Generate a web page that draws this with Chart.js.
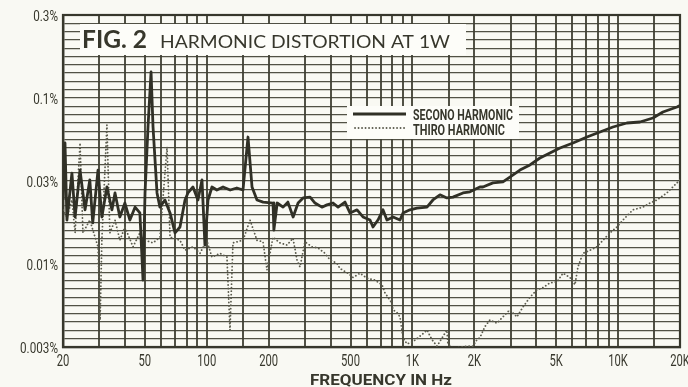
<!DOCTYPE html>
<html><head><meta charset="utf-8">
<script src="https://cdn.jsdelivr.net/npm/chart.js@4/dist/chart.umd.min.js"></script>
<style>html,body{margin:0;padding:0;background:#fbfbf6}#wrap{width:688px;height:387px}</style>
</head><body><div id="wrap"><canvas id="c" width="688" height="387"></canvas></div>
<script>
// ---- data ----
const secondFreq = [20,20.45,20.9,22.1,22.9,24.2,25.6,27.0,27.9,29.6,
  30.9,32.7,34.6,35.8,37.8,40.0,42.3,44.8,47.3,49.0,
  50.1,51.8,53.6,54.8,57.3,59.2,62.6,66.3,70.1,74.1,
  78.4,81.0,85.7,90.6,94.8,98.0,101.4,106,112,120,
  130,140,150,158.7,166,175.5,188,210,212,220,
  235,248,263,278,294,318,336,363,384,411,
  435,470,497,538,575,622,643,680,719,752,
  805,870,900,973,1052,1177,1258,1361,1472,1574,
  1761,1904,2129,2202,2463,2754,2978,3332,3727,4169,
  4663,5217,6035,7057,8163,9442,11038,12768,14770,16520,
  19320,20000];
const secondPct = [0.0243,0.0536,0.0184,0.0353,0.0192,0.0368,0.0212,0.0321,0.0177,0.0368,
  0.0192,0.0291,0.0212,0.0268,0.0192,0.0233,0.0184,0.0220,0.0203,0.0080,
  0.0268,0.0669,0.1434,0.0669,0.0268,0.0220,0.0243,0.0203,0.0154,0.0167,
  0.0243,0.0268,0.0291,0.0243,0.0321,0.0130,0.0243,0.0291,0.0279,0.0291,
  0.0279,0.0287,0.0279,0.0582,0.0291,0.0243,0.0236,0.0233,0.0160,0.0233,
  0.0220,0.0236,0.0192,0.0233,0.0250,0.0253,0.0233,0.0220,0.0227,0.0233,
  0.0220,0.0236,0.0203,0.0212,0.0192,0.0184,0.0167,0.0184,0.0212,0.0184,
  0.0192,0.0184,0.0203,0.0212,0.0217,0.0220,0.0243,0.0261,0.0250,0.0253,
  0.0268,0.0272,0.0291,0.0291,0.0308,0.0312,0.0334,0.0368,0.0395,0.0435,
  0.0467,0.0500,0.0536,0.0582,0.0624,0.0669,0.0707,0.0717,0.0758,0.0823,
  0.0883,0.0900];
const thirdFreq = [20,20.9,22.1,22.9,24.2,25.0,27.0,29.6,30.3,30.9,
  32.7,33.8,35.8,37.8,40.0,43.8,47.3,50.1,54.8,59.2,
  64.1,66.3,74.1,78.4,85.7,92.7,100,106,116,125.4,
  129.7,134.1,150.1,162.3,175.5,187.7,196.2,209.9,227,245.5,
  262.6,274.6,284,300.3,324.7,347.3,375.6,397.2,429.6,444.3,
  485.9,514,555.9,601.3,657.6,711.3,735.7,760.7,795.5,804.5,
  841.2,869.9,899.6,940.7,1006,1125,1177,1245,1316,1472,
  1488,1574,1841,1969,2059,2129,2252,2381,2576,2754,
  2978,3221,3446,3727,4031,4312,4663,5043,5395,5835,
  6171,6380,6749,7298,7893,8441,9130,9873,10557,11805,
  13204,14282,15446,17275,19320,20000];
const thirdPct = [0.0212,0.0192,0.0243,0.0154,0.0536,0.0154,0.0184,0.0127,0.0046,0.0139,
  0.0688,0.0154,0.0184,0.0139,0.0167,0.0127,0.0154,0.0139,0.0134,0.0145,
  0.0507,0.0145,0.0139,0.0121,0.0127,0.0116,0.0139,0.0110,0.0116,0.0110,
  0.0040,0.0134,0.0139,0.0184,0.0139,0.0136,0.0092,0.0145,0.0134,0.0130,
  0.0143,0.0106,0.0096,0.0136,0.0127,0.0125,0.0116,0.0106,0.0101,0.0094,
  0.0088,0.0083,0.0088,0.0082,0.0080,0.0075,0.0067,0.0063,0.0058,0.0053,
  0.0051,0.0048,0.0036,0.0033,0.0034,0.0038,0.0040,0.0035,0.0032,0.0040,
  0.0033,0.0031,0.0032,0.0032,0.0035,0.0036,0.0042,0.0046,0.0044,0.0048,
  0.0053,0.0048,0.0055,0.0063,0.0070,0.0072,0.0077,0.0078,0.0088,0.0083,
  0.0075,0.0096,0.0116,0.0121,0.0127,0.0139,0.0154,0.0167,0.0184,0.0212,
  0.0220,0.0233,0.0243,0.0268,0.0308,0.0321];
const seriesLabels = ['SECONO HARMONIC','THIRO HARMONIC'];
const xGridFreqs = [20,30,40,50,60,70,80,90,100,150,200,300,400,500,600,700,800,900,
  1000,1500,2000,3000,4000,5000,6000,7000,8000,9000,10000,15000,20000];
const xTickFreqs = [20,50,100,200,500,1000,2000,5000,10000,20000];
const xTickLabels = ['20','50','100','200','500','1K','2K','5K','10K','20K'];
const yTickValues = [0.31623,0.1,0.031623,0.01,0.0031623];
const yTickLabels = ['0.3%','0.1%','0.03%','0.01%','0.003%'];
const yTop = 0.31623, yBottom = 0.0031623;
const titleMain = 'FIG. 2', titleSub = 'HARMONIC DISTORTION AT 1W';
const xAxisTitle = 'FREQUENCY IN Hz';

// 1 dB graph-paper rulings
const yGridVals = [];
for (let k = 0; k <= 40; k++) yGridVals.push(yTop * Math.pow(10, -k / 20));

const INK = '#37372c';
const GRID = 'rgba(62,62,50,0.9)';
const SANS = "'Roboto','Liberation Sans',sans-serif";

function drawText(ctx, text, x, y, sx, font, align) {
  ctx.save();
  ctx.font = font;
  const m = ctx.measureText(text).width * sx;
  let x0 = x;
  if (align === 'center') x0 = x - m / 2;
  else if (align === 'right') x0 = x - m;
  ctx.translate(x0, y);
  ctx.scale(sx, 1);
  ctx.textAlign = 'left';
  ctx.textBaseline = 'alphabetic';
  ctx.fillText(text, 0, 0);
  ctx.restore();
}
function fitText(ctx, text, x, y, w, font) {
  ctx.save(); ctx.font = font;
  const m = ctx.measureText(text).width;
  ctx.restore();
  drawText(ctx, text, x, y, w / m, font, 'left');
}

const bgPlugin = {
  id: 'bg',
  beforeDraw(chart) {
    const c = chart.ctx; c.save(); c.fillStyle = '#f9f9f3';
    c.fillRect(0, 0, chart.width, chart.height); c.restore();
  }
};
const overlay = {
  id: 'overlay',
  beforeDatasetsDraw(chart) {
    const c = chart.ctx, a = chart.chartArea;
    c.save();
    c.strokeStyle = INK; c.lineWidth = 2.2;
    c.strokeRect(a.left, a.top, a.right - a.left, a.bottom - a.top);
    // title box
    c.fillStyle = '#fdfdf9';
    c.fillRect(80, 24, 386, 31);
    c.fillStyle = INK;
    fitText(c, titleMain, 82, 48, 65, "bold 25px 'Lato','Open Sans',sans-serif");
    fitText(c, titleSub, 160, 48, 290, "18px 'Lato','Open Sans',sans-serif");
    // legend box
    c.fillStyle = '#fdfdf9';
    c.fillRect(347, 106, 172, 33);
    const ds = chart.data.datasets;
    c.strokeStyle = ds[0].borderColor; c.lineWidth = ds[0].borderWidth;
    c.beginPath(); c.moveTo(353, 114); c.lineTo(406, 114); c.stroke();
    c.strokeStyle = ds[1].borderColor; c.lineWidth = ds[1].borderWidth;
    c.setLineDash(ds[1].borderDash); c.lineCap = 'round';
    c.beginPath(); c.moveTo(355, 128); c.lineTo(406, 128); c.stroke();
    c.setLineDash([]);
    c.fillStyle = INK;
    fitText(c, ds[0].label, 413, 120, 100, "bold 14px " + SANS);
    fitText(c, ds[1].label, 413, 135, 92, "bold 14px " + SANS);
    c.restore();
  },
  afterDraw(chart) {
    const c = chart.ctx, xs = chart.scales.x, ys = chart.scales.y;
    c.save(); c.fillStyle = INK;
    xTickFreqs.forEach((f, i) => {
      drawText(c, xTickLabels[i], xs.getPixelForValue(f), 366, 0.66, "17px " + SANS, 'center');
    });
    yTickValues.forEach((v, i) => {
      drawText(c, yTickLabels[i], 58, ys.getPixelForValue(v) + 5.5, 0.78, "15px " + SANS, 'right');
    });
    fitText(c, xAxisTitle, 310, 385, 142, "bold 14px " + SANS);
    c.restore();
  }
};

new Chart(document.getElementById('c'), {
  type: 'line',
  data: {
    datasets: [
      { label: seriesLabels[0],
        data: secondFreq.map((f, i) => ({x: f, y: secondPct[i]})),
        borderColor: '#303026', borderWidth: 2.8, pointRadius: 0, tension: 0,
        borderJoinStyle: 'round', fill: false },
      { label: seriesLabels[1],
        data: thirdFreq.map((f, i) => ({x: f, y: thirdPct[i]})),
        borderColor: '#5c5c4e', borderWidth: 1.8, borderDash: [0.1, 3.4],
        borderCapStyle: 'round', pointRadius: 0, tension: 0, fill: false }
    ]
  },
  options: {
    responsive: false, animation: false, devicePixelRatio: 1,
    layout: { padding: { left: 0, right: 8, top: 15, bottom: 0 } },
    plugins: { legend: { display: false }, tooltip: { enabled: false } },
    scales: {
      x: {
        type: 'logarithmic', min: 20, max: 20000,
        afterFit(s) { s.height = 40; s.paddingLeft = 0; s.paddingRight = 0; },
        afterBuildTicks(s) { s.ticks = xGridFreqs.map(v => ({value: v})); },
        grid: { color: GRID, lineWidth: 2, drawTicks: false },
        border: { display: true, color: INK, width: 2.2 },
        ticks: { display: false, autoSkip: false }
      },
      y: {
        type: 'logarithmic', min: yBottom, max: yTop,
        afterFit(s) { s.width = 63; s.paddingTop = 0; s.paddingBottom = 0; },
        afterBuildTicks(s) { s.ticks = yGridVals.map(v => ({value: v})); },
        grid: { color: GRID, lineWidth: 1.3, drawTicks: false },
        border: { display: true, color: INK, width: 2.4 },
        ticks: { display: false, autoSkip: false }
      }
    }
  },
  plugins: [bgPlugin, overlay]
});
</script></body></html>
